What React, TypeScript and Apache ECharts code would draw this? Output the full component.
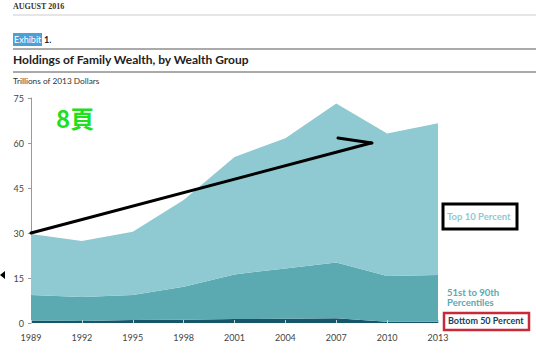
import React, { useEffect, useRef } from "react";
import * as echarts from "echarts";

const years = ["1989", "1992", "1995", "1998", "2001", "2004", "2007", "2010", "2013"];
const bottom50 = [0.8, 0.7, 1.0, 1.1, 1.3, 1.4, 1.6, 0.4, 0.4];
const p51to90 = [8.5, 8.0, 8.3, 11.0, 14.9, 16.8, 18.6, 15.3, 15.6];
const top10 = [20.4, 18.6, 21.1, 28.9, 39.1, 43.4, 53.0, 47.5, 50.6];
const yTicks = [0, 15, 30, 45, 60, 75];

const SANS = "Lato, 'Open Sans', sans-serif";

export default function App() {
  const ref = useRef<HTMLDivElement>(null);
  useEffect(() => {
    if (!ref.current) return;
    const chart = echarts.init(ref.current, undefined, { renderer: "svg" });
    const mk = (name: string, data: number[], color: string) => ({
      name,
      type: "line",
      stack: "total",
      data,
      symbol: "none",
      lineStyle: { width: 0 },
      areaStyle: { color, opacity: 1 },
      itemStyle: { color },
    });
    const Z = 100;
    chart.setOption({
      animation: false,
      backgroundColor: "#ffffff",
      grid: { left: 31, right: 98, top: 98, bottom: 34 },
      xAxis: {
        type: "category",
        data: years,
        boundaryGap: false,
        axisLine: { show: false },
        axisTick: { show: true, inside: true, length: 3, lineStyle: { color: "#b9d7da" } },
        axisLabel: { color: "#444", fontFamily: SANS, fontSize: 9, margin: 10 },
        z: 5,
      },
      yAxis: {
        type: "value",
        min: yTicks[0],
        max: yTicks[yTicks.length - 1],
        interval: 15,
        splitLine: { show: false },
        axisLine: { show: true, lineStyle: { color: "#999", width: 1 } },
        axisTick: { show: true, length: 3, lineStyle: { color: "#999" } },
        axisLabel: { color: "#444", fontFamily: SANS, fontSize: 9, margin: 7 },
      },
      series: [
        mk("Bottom 50 Percent", bottom50, "#17566a"),
        mk("51st to 90th Percentiles", p51to90, "#5ba9b1"),
        mk("Top 10 Percent", top10, "#8fc9d1"),
      ],
      graphic: [
        { type: "text", z: Z, left: 13, top: 2, style: { text: "AUGUST 2016", font: "bold 8px 'Liberation Serif', serif", fill: "#333" } },
        { type: "line", z: Z, shape: { x1: 13, y1: 15, x2: 536, y2: 15 }, style: { stroke: "#ccc", lineWidth: 1 } },
        { type: "rect", z: Z, shape: { x: 13, y: 33, width: 29, height: 13 }, style: { fill: "#4c9fd9" } },
        { type: "text", z: Z, left: 14, top: 35, style: { text: "Exhibit", font: `9px ${SANS}`, fill: "#ffffff" } },
        { type: "text", z: Z, left: 44, top: 35, style: { text: "1.", font: `bold 9px ${SANS}`, fill: "#222" } },
        { type: "line", z: Z, shape: { x1: 13, y1: 49, x2: 536, y2: 49 }, style: { stroke: "#aaa", lineWidth: 2 } },
        { type: "text", z: Z, left: 13, top: 53, style: { text: "Holdings of Family Wealth, by Wealth Group", font: `bold 12px ${SANS}`, fill: "#222" } },
        { type: "line", z: Z, shape: { x1: 13, y1: 72, x2: 536, y2: 72 }, style: { stroke: "#555", lineWidth: 1 } },
        { type: "text", z: Z, left: 13, top: 77, style: { text: "Trillions of 2013 Dollars", font: `8.3px ${SANS}`, fill: "#333" } },
        { type: "text", z: Z, left: 56, top: 105, style: { text: "8頁", font: "bold 24px 'Noto Sans CJK JP', sans-serif", fill: "#1ee01e" } },
        { type: "line", z: Z, shape: { x1: 31, y1: 233, x2: 371, y2: 143 }, style: { stroke: "#000", lineWidth: 3, lineCap: "round" } },
        { type: "line", z: Z, shape: { x1: 338, y1: 138, x2: 372, y2: 143 }, style: { stroke: "#000", lineWidth: 3, lineCap: "round" } },
        { type: "text", z: Z, left: 447, top: 211, style: { text: "Top 10 Percent", font: `bold 9.5px ${SANS}`, fill: "#8fc9d1" } },
        { type: "rect", z: Z, shape: { x: 443, y: 204, width: 74, height: 25 }, style: { fill: "none", stroke: "#000", lineWidth: 3 } },
        { type: "text", z: Z, left: 447, top: 287, style: { text: "51st to 90th\nPercentiles", font: `bold 9.5px ${SANS}`, lineHeight: 10.5, fill: "#5ba9b1" } },
        { type: "rect", z: Z, shape: { x: 444, y: 313, width: 85, height: 17 }, style: { fill: "none", stroke: "#c82a3a", lineWidth: 2.5 } },
        { type: "text", z: Z, left: 448, top: 316, style: { text: "Bottom 50 Percent", font: `bold 9px ${SANS}`, fill: "#17405a" } },
        { type: "polygon", z: Z, shape: { points: [[0, 275], [5, 271], [5, 279]] }, style: { fill: "#000" } },
      ],
    });
    return () => chart.dispose();
  }, []);
  return <div ref={ref} style={{ position: "fixed", left: 0, top: 0, width: 536, height: 357 }} />;
}
